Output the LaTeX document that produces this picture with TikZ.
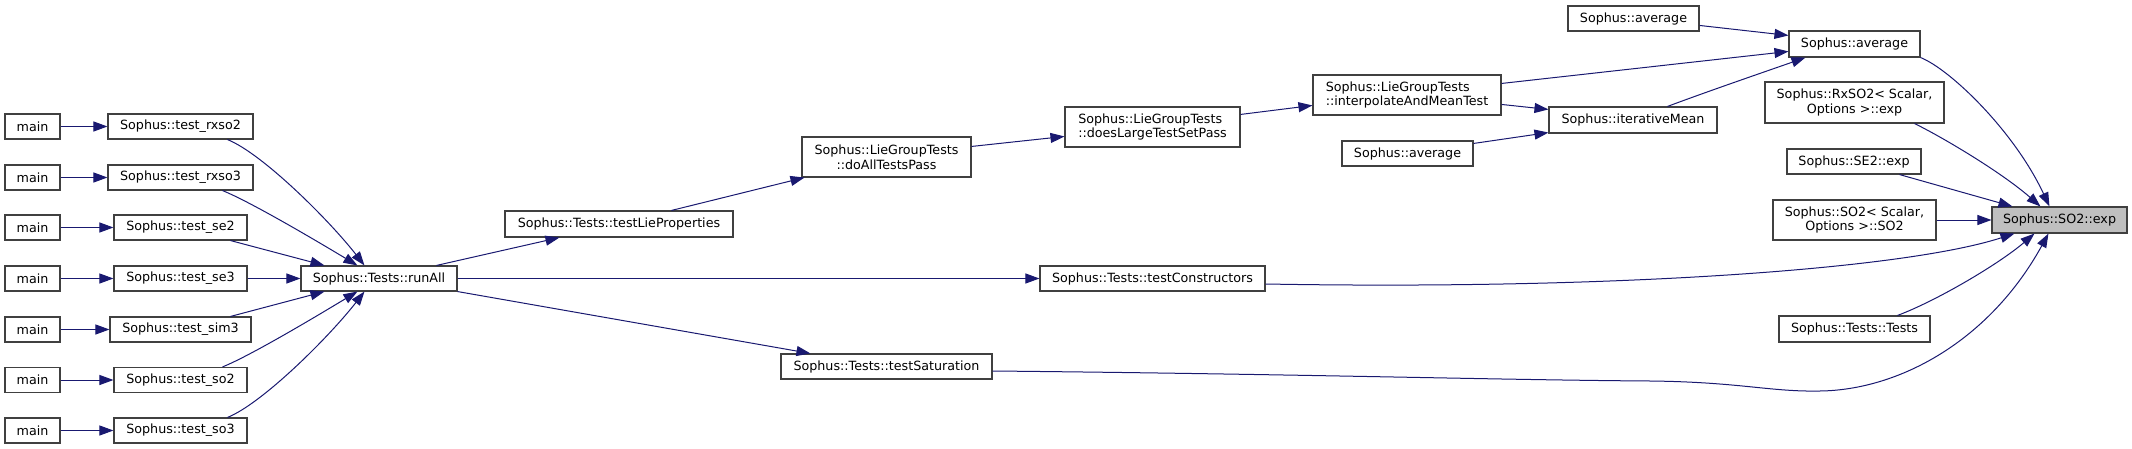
\documentclass[tikz,border=0pt]{standalone}
\usepackage{fontspec}
\setmainfont{DejaVu Sans}
\usetikzlibrary{arrows.meta,calc}
\definecolor{edgecol}{HTML}{191970}
\definecolor{boxline}{HTML}{404040}
\definecolor{hl}{HTML}{BFBFBF}
\begin{document}
\begin{tikzpicture}[x=1pt,y=-1pt,
  box/.style={draw=boxline, line width=1.1pt, fill=white, inner sep=0pt,
    minimum height=25pt, font=\fontsize{12.7}{14.7}\selectfont, text=black},
  box2/.style={box, minimum height=40pt},
  edge/.style={draw=edgecol, line width=1pt, -{Triangle[length=14pt,width=10pt]}},
]
\useasboundingbox (0,0) rectangle (2132,449);

% main nodes
\node[box, minimum width=55pt] (m1) at (32.5,126.5) {main};
\node[box, minimum width=55pt] (m2) at (32.5,177.5) {main};
\node[box, minimum width=55pt] (m3) at (32.5,227.5) {main};
\node[box, minimum width=55pt] (m4) at (32.5,278.5) {main};
\node[box, minimum width=55pt] (m5) at (32.5,329.5) {main};
\node[box, minimum width=55pt] (m6) at (32.5,380) {main};
\node[box, minimum width=55pt] (m7) at (32.5,430.5) {main};

% test nodes
\node[box, minimum width=145pt] (rxso2) at (180.5,126.5) {Sophus::test\_rxso2};
\node[box, minimum width=145pt] (rxso3) at (180.5,177.5) {Sophus::test\_rxso3};
\node[box, minimum width=133pt] (se2) at (180.5,227.5) {Sophus::test\_se2};
\node[box, minimum width=133pt] (se3) at (180.5,278.5) {Sophus::test\_se3};
\node[box, minimum width=141pt] (sim3) at (180.5,329.5) {Sophus::test\_sim3};
\node[box, minimum width=133pt] (so2) at (180.5,380) {Sophus::test\_so2};
\node[box, minimum width=133pt] (so3) at (180.5,430.5) {Sophus::test\_so3};

\node[box, minimum width=156pt] (runAll) at (379,278.5) {Sophus::Tests::runAll};
\node[box, minimum width=228pt, minimum height=26pt] (tLP) at (619,224) {Sophus::Tests::testLieProperties};
\node[box, minimum width=225pt] (tC) at (1152.5,278.5) {Sophus::Tests::testConstructors};
\node[box, minimum width=211pt] (tS) at (886.5,366.5) {Sophus::Tests::testSaturation};
\node[box2, minimum width=169pt, align=center] (doAll) at (886.5,157) {Sophus::LieGroupTests\\::doAllTestsPass};
\node[box2, minimum width=175pt, align=left] (doesLarge) at (1152.5,127) {Sophus::LieGroupTests\\::doesLargeTestSetPass};
\node[box2, minimum width=188pt, align=left] (interp) at (1407,95) {Sophus::LieGroupTests\\::interpolateAndMeanTest};
\node[box, minimum width=131pt] (avgLow) at (1407.5,153.5) {Sophus::average};
\node[box, minimum width=131pt] (avgTop) at (1633.5,18.5) {Sophus::average};
\node[box, minimum width=168pt, minimum height=26pt] (iterMean) at (1633,120) {Sophus::iterativeMean};
\node[box, minimum width=131pt, minimum height=26pt] (avgMid) at (1854.5,44) {Sophus::average};
\node[box2, minimum width=179pt, minimum height=41pt, align=center] (rxso2exp) at (1854.5,102.5) {Sophus::RxSO2< Scalar,\\Options >::exp};
\node[box, minimum width=134pt] (se2exp) at (1854,161.5) {Sophus::SE2::exp};
\node[box2, minimum width=163pt, align=center] (so2ctor) at (1854.5,220) {Sophus::SO2< Scalar,\\Options >::SO2};
\node[box, minimum width=151pt, minimum height=26pt] (tests) at (1854.5,329) {Sophus::Tests::Tests};
\node[box, minimum width=135pt, minimum height=26pt, fill=hl] (so2exp) at (2059.5,220) {Sophus::SO2::exp};

% main -> tests
\draw[edge] (m1.east) -- (rxso2.west);
\draw[edge] (m2.east) -- (rxso3.west);
\draw[edge] (m3.east) -- (se2.west);
\draw[edge] (m4.east) -- (se3.west);
\draw[edge] (m5.east) -- (sim3.west);
\draw[edge] (m6.east) -- (so2.west);
\draw[edge] (m7.east) -- (so3.west);

% tests -> runAll
\draw[edge] ($(rxso2.south west)+(120,0)$) .. controls +(35,14) and +(-35,-45) .. ($(runAll.north west)+(64,0)$);
\draw[edge] ($(rxso3.south west)+(115,0)$) .. controls +(30,12) and +(-30,-18) .. ($(runAll.north west)+(57,0)$);
\draw[edge] ($(se2.south west)+(117,0)$) -- ($(runAll.north west)+(24,0)$);
\draw[edge] (se3.east) -- (runAll.west);
\draw[edge] ($(sim3.north west)+(121,0)$) -- ($(runAll.south west)+(24,0)$);
\draw[edge] ($(so2.north west)+(109,0)$) .. controls +(30,-12) and +(-30,18) .. ($(runAll.south west)+(57,0)$);
\draw[edge] ($(so3.north west)+(114,0)$) .. controls +(35,-14) and +(-35,45) .. ($(runAll.south west)+(64,0)$);

% runAll -> ...
\draw[edge] ($(runAll.north west)+(136,0)$) -- ($(tLP.south west)+(55,0)$);
\draw[edge] (runAll.east) -- (tC.west);
\draw[edge] (runAll.south east) -- ($(tS.north west)+(30,0)$);
\draw[edge] ($(tLP.north west)+(167,0)$) -- ($(doAll.south west)+(3,0)$);
\draw[edge] ($(doAll.north east)+(0,10)$) -- ($(doesLarge.north west)+(0,30)$);
\draw[edge] ($(doesLarge.north east)+(0,8)$) -- ($(interp.north west)+(0,31)$);
\draw[edge] ($(interp.north east)+(0,9)$) -- ($(avgMid.north west)+(0,21)$);
\draw[edge] ($(interp.north east)+(0,30)$) -- ($(iterMean.north west)+(0,3)$);
\draw[edge] ($(avgLow.north east)+(0,3)$) -- ($(iterMean.south west)+(0,-1)$);
\draw[edge] ($(avgTop.north east)+(0,20)$) -- ($(avgMid.north west)+(0,5)$);
\draw[edge] ($(iterMean.north west)+(119,0)$) .. controls +(40,-15) and +(-40,14) .. ($(avgMid.south west)+(17,0)$);

% -> SO2::exp
\draw[edge] (avgMid.south east) .. controls +(30,12) and +(-35,-75) .. ($(so2exp.north west)+(58,0)$);
\draw[edge] ($(rxso2exp.south west)+(150,0)$) .. controls +(25,12) and +(-40,-35) .. ($(so2exp.north west)+(49,0)$);
\draw[edge] ($(se2exp.south west)+(113,0)$) -- ($(so2exp.north west)+(21,0)$);
\draw[edge] (so2ctor.east) -- (so2exp.west);
\draw[edge] ($(tC.east)+(0,5.5)$) .. controls +(335,6) and +(-115,37) .. ($(so2exp.south west)+(23,0)$);
\draw[edge] ($(tests.north west)+(119,0)$) .. controls +(40,-15) and +(-35,30) .. ($(so2exp.south west)+(43,0)$);
\draw[edge] ($(tS.east)+(0,4.5)$) .. controls (1300,374) and (1500,380) .. (1650,381)
  .. controls (1740,382) and (1770,392) .. (1820,391)
  .. controls (1900,390) and (1990,340) .. ($(so2exp.south west)+(57,0)$);
\end{tikzpicture}
\end{document}
